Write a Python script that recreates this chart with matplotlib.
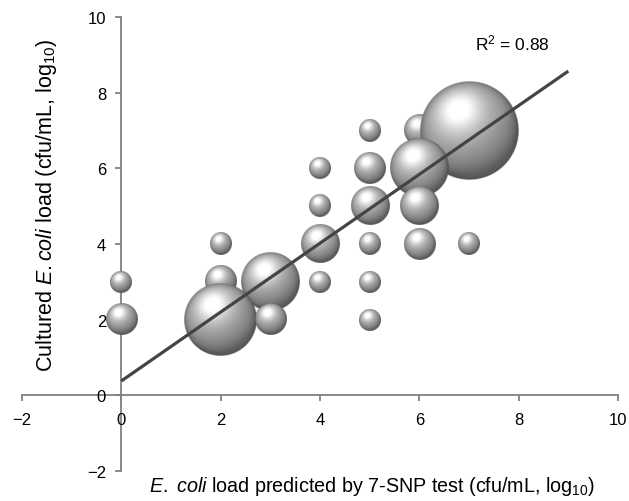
import numpy as np
import matplotlib
matplotlib.use("Agg")
import matplotlib.pyplot as plt

plt.rcParams['font.family'] = ['Liberation Sans', 'DejaVu Sans']
plt.rcParams['mathtext.fontset'] = 'custom'
plt.rcParams['mathtext.rm'] = 'Liberation Sans'
plt.rcParams['mathtext.it'] = 'Liberation Sans:italic'

# bubble data: predicted load, cultured load, number of samples
pred = [0, 0, 2, 2, 2, 3, 3, 4, 4, 4, 4, 5, 5, 5, 5, 5, 5, 6, 6, 6, 6, 7, 7]
cult = [3, 2, 4, 3, 2, 3, 2, 6, 5, 4, 3, 7, 6, 5, 4, 3, 2, 7, 6, 5, 4, 7, 4]
count = [1, 2, 1, 2, 11, 7, 2, 1, 1, 3, 1, 1, 2, 3, 1, 1, 1, 2, 7, 3, 2, 20, 1]

# linear fit
slope = 0.91
intercept = 0.38
fit_x = [0, 9]
r2_text = "R$^2$ = 0.88"

ticks = [-2, 0, 2, 4, 6, 8, 10]


def make_sphere(n=256):
    t = np.linspace(-1, 1, n)
    u, v = np.meshgrid(t, -t)
    rr = u**2 + v**2
    z = np.sqrt(np.clip(1 - rr, 0, 1))
    L = np.array([-0.25, 0.45, 0.86])
    L = L / np.linalg.norm(L)
    diff = np.clip(u*L[0] + v*L[1] + z*L[2], 0, 1)
    Hv = np.array([-0.22, 0.42, 0.88])
    Hv = Hv / np.linalg.norm(Hv)
    spec = np.clip(u*Hv[0] + v*Hv[1] + z*Hv[2], 0, 1)**10
    g = 0.38 + 0.36*diff + 0.33*spec
    g = g * (1 - 0.22*rr**8)
    g = np.clip(g, 0, 1)
    alpha = np.clip((1 - np.sqrt(rr)) * n / 2, 0, 1)
    return np.dstack([g, g, g, alpha])


W, H = 629, 502
fig = plt.figure(figsize=(W/100, H/100), dpi=100)
ax = fig.add_axes([22/W, 30/H, 596/W, 454/H])
ax.set_xlim(-2, 10)
ax.set_ylim(-2, 10)

px_x = 596 / 12.0
px_y = 454 / 12.0
r1 = 11.0  # radius in px for one sample
sphere = make_sphere()

for x, y, c in zip(pred, cult, count):
    r = r1 * np.sqrt(c)
    rx, ry = r / px_x, r / px_y
    ax.imshow(sphere, extent=[x - rx, x + rx, y - ry, y + ry], aspect='auto',
              interpolation='bilinear', zorder=5 - y * 0.1)

fx = np.array(fit_x, dtype=float)
ax.plot(fx, intercept + slope * fx, color='#444444', lw=2.3, zorder=10,
        solid_capstyle='butt')

ax.set_xlim(-2, 10)
ax.set_ylim(-2, 10)
ax.set_aspect('auto')

for s in ['top', 'right']:
    ax.spines[s].set_visible(False)
ax.spines['left'].set_position(('data', 0))
ax.spines['bottom'].set_position(('data', 0))
for s in ['left', 'bottom']:
    ax.spines[s].set_color('#808080')
    ax.spines[s].set_linewidth(1.3)
    ax.spines[s].set_zorder(1)
ax.set_xticks(ticks)
ax.set_yticks(ticks)
ax.tick_params(axis='both', colors='#808080', length=4, width=1.3,
               labelcolor='black', labelsize=12)
ax.tick_params(axis='x', pad=8)
ax.tick_params(axis='y', pad=7)

ax.text(7.87, 9.34, r2_text, ha='center', va='center', fontsize=12.5)

fig.text(372/W, 1 - 487/H,
         r"$\mathit{E.}$ $\mathit{coli}$ load predicted by 7-SNP test (cfu/mL, log$_{10}$)",
         ha='center', va='center', fontsize=14.2)
fig.text(47/W, 1 - 205/H,
         r"Cultured $\mathit{E.coli}$ load (cfu/mL, log$_{10}$)",
         ha='center', va='center', fontsize=15.5, rotation=90)

fig.savefig("out.png", dpi=100)
